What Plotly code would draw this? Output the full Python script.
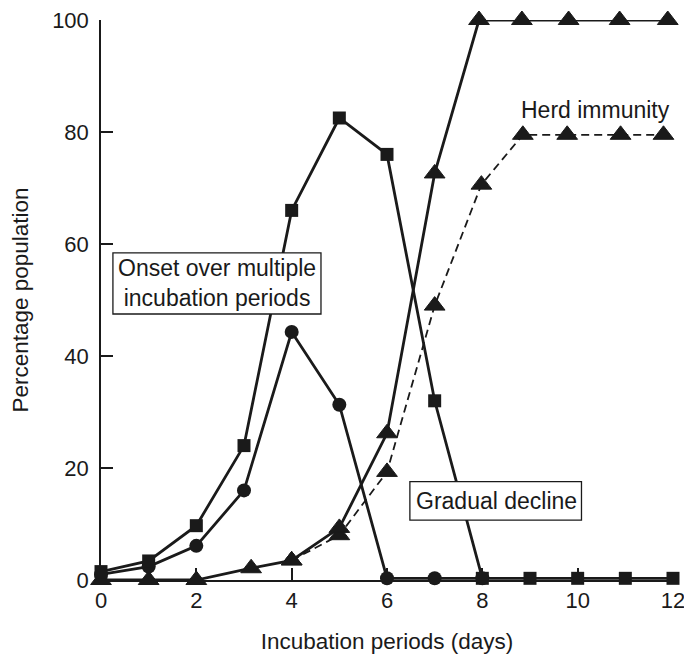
import plotly.graph_objects as go

# ---- data ----
days = [0, 1, 2, 3, 4, 5, 6, 7, 8, 9, 10, 11, 12]
squares_y = [1.5, 3.4, 9.7, 24, 66, 82.5, 76, 32, 0.3, 0.3, 0.3, 0.3, 0.3]

circles_x = [0, 1, 2, 3, 4, 5, 6, 7, 8]
circles_y = [1, 2.4, 6.1, 16, 44.3, 31.3, 0.3, 0.3, 0.3]

tri_solid_x = [0, 1, 2, 3.15, 4, 5, 6, 7, 7.93, 8.83, 9.81, 10.88, 11.89]
tri_solid_y = [0, 0, 0, 2.1, 3.5, 9.3, 26.2, 72.6, 100, 100, 100, 100, 100]

tri_dash_x = [4, 5, 6, 7, 7.98, 8.85, 9.78, 10.9, 11.8]
tri_dash_y = [3.5, 8.0, 19.3, 49, 70.6, 79.5, 79.5, 79.5, 79.5]

x_ticks = [0, 2, 4, 6, 8, 10, 12]
y_ticks = [0, 20, 40, 60, 80, 100]

INK = "#1a1a1a"
FONT = "Liberation Sans, Arial, sans-serif"

fig = go.Figure()

fig.add_trace(go.Scatter(
    x=tri_dash_x, y=tri_dash_y, mode="lines+markers",
    line=dict(color=INK, width=1.8, dash="8px,5px"),
    marker=dict(symbol="triangle-up", size=18, color=INK, line=dict(width=1, color=INK)),
    cliponaxis=False, showlegend=False))

fig.add_trace(go.Scatter(
    x=tri_solid_x, y=tri_solid_y, mode="lines+markers",
    line=dict(color=INK, width=2.8),
    marker=dict(symbol="triangle-up", size=18, color=INK, line=dict(width=1, color=INK)),
    cliponaxis=False, showlegend=False))

fig.add_trace(go.Scatter(
    x=circles_x, y=circles_y, mode="lines+markers",
    line=dict(color=INK, width=2.8),
    marker=dict(symbol="circle", size=14, color=INK),
    cliponaxis=False, showlegend=False))

fig.add_trace(go.Scatter(
    x=days, y=squares_y, mode="lines+markers",
    line=dict(color=INK, width=2.8),
    marker=dict(symbol="square", size=13, color=INK),
    cliponaxis=False, showlegend=False))

# label boxes
fig.add_shape(type="rect", x0=0.25, x1=4.615, y0=47.5, y1=58.4,
              line=dict(color=INK, width=1.3), fillcolor="white", layer="above")
fig.add_shape(type="rect", x0=6.48, x1=10.08, y0=10.7, y1=17.55,
              line=dict(color=INK, width=1.3), fillcolor="white", layer="above")

ann_font = dict(family=FONT, size=23, color=INK)
fig.add_annotation(x=2.43, y=53.0, text="Onset over multiple<br>incubation periods",
                   showarrow=False, font=ann_font)
fig.add_annotation(x=8.29, y=14.1, text="Gradual decline", showarrow=False, font=ann_font)
fig.add_annotation(x=10.38, y=84.0, text="Herd immunity", showarrow=False, font=ann_font)

axis_common = dict(
    showgrid=False, zeroline=False, showline=True, linecolor=INK, linewidth=1.5,
    ticks="inside", ticklen=12, tickwidth=1.5, tickcolor=INK,
    tickfont=dict(family=FONT, size=22, color=INK),
    automargin=False, ticklabeloverflow="allow",
)

# the page body has an 8px margin, so the figure is sized to fit the window
fig.update_layout(
    width=684, height=646,
    margin=dict(l=93, r=19, t=12, b=74),
    paper_bgcolor="white", plot_bgcolor="white",
    xaxis=dict(range=[0, 12], tickvals=x_ticks, ticklabelstandoff=0,
               title=dict(text="Incubation periods (days)", standoff=21,
                          font=dict(family=FONT, size=22.5, color=INK)),
               **axis_common),
    yaxis=dict(range=[0, 100], tickvals=y_ticks, ticklabelstandoff=6,
               title=dict(text="Percentage population", standoff=24,
                          font=dict(family=FONT, size=22.5, color=INK)),
               **axis_common),
)

fig.write_html("out.html")
